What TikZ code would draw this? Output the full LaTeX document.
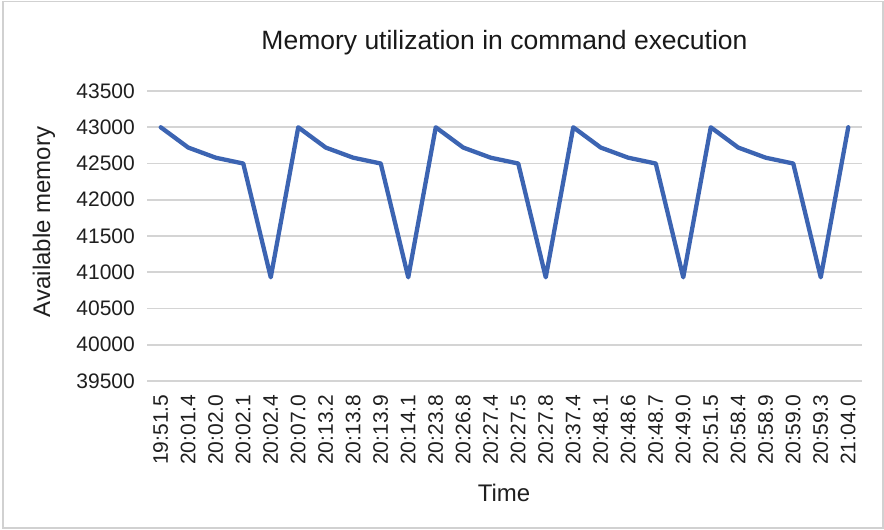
\documentclass[tikz,border=0pt]{standalone}
\usepackage{fontspec}
\setmainfont{Liberation Sans}
\begin{document}
\begin{tikzpicture}[x=1pt, y=-1pt,
  frame/.style={draw=black!18, line width=1.2pt},
  gridline/.style={draw=black!17, line width=1.6pt},
  dataline/.style={draw={rgb,255:red,60;green,100;blue,178}, line width=4.3pt, line join=round, line cap=round},
  ticklabel/.style={font=\fontsize{21}{24}\selectfont, text=black!88, inner sep=0pt},
  axistitle/.style={font=\fontsize{24}{28}\selectfont, text=black!88, inner sep=0pt},
  charttitle/.style={font=\fontsize{26.5}{30}\selectfont, text=black!90, inner sep=0pt}]
\useasboundingbox (0,0) rectangle (884,530);
\fill[white] (0,0) rectangle (884,530);
\draw[frame] (3,1.5) rectangle (883,528);

% horizontal gridlines and value labels (hundreds)
\foreach \k in {0,...,8}{
  \pgfmathtruncatemacro{\val}{395+5*\k}
  \draw[gridline] (147,{381-36.25*\k}) -- (862,{381-36.25*\k});
  \node[ticklabel, anchor=east] (ytick\k) at (135,{381-36.25*\k}) {\val00};
}

% time stamps along the category axis
\foreach \lab [count=\i from 0] in {19:51.5,20:01.4,20:02.0,20:02.1,20:02.4,20:07.0,20:13.2,20:13.8,20:13.9,20:14.1,20:23.8,20:26.8,20:27.4,20:27.5,20:27.8,20:37.4,20:48.1,20:48.6,20:48.7,20:49.0,20:51.5,20:58.4,20:58.9,20:59.0,20:59.3,21:04.0}{
  \node[ticklabel, rotate=90, anchor=east] (xtick\i) at ({160.75+27.5*\i},394.5) {\lab};
}

% memory series (values relative to 39500)
\begin{scope}[shift={(160.75,381)}, x=27.5pt, y=0.0725pt]
  \draw[dataline] plot coordinates {
    (0,3500) (1,3220) (2,3080) (3,3000) (4,1430)
    (5,3500) (6,3220) (7,3080) (8,3000) (9,1430)
    (10,3500) (11,3220) (12,3080) (13,3000) (14,1430)
    (15,3500) (16,3220) (17,3080) (18,3000) (19,1430)
    (20,3500) (21,3220) (22,3080) (23,3000) (24,1430)
    (25,3500)};
\end{scope}

% titles
\node[charttitle] (title) at (504.5,43) {Memory utilization in command execution};
\node[axistitle, rotate=90] (ytitle) at (44,222) {Available memory};
\node[axistitle] (xtitle) at (504,493) {Time};
\end{tikzpicture}
\end{document}
